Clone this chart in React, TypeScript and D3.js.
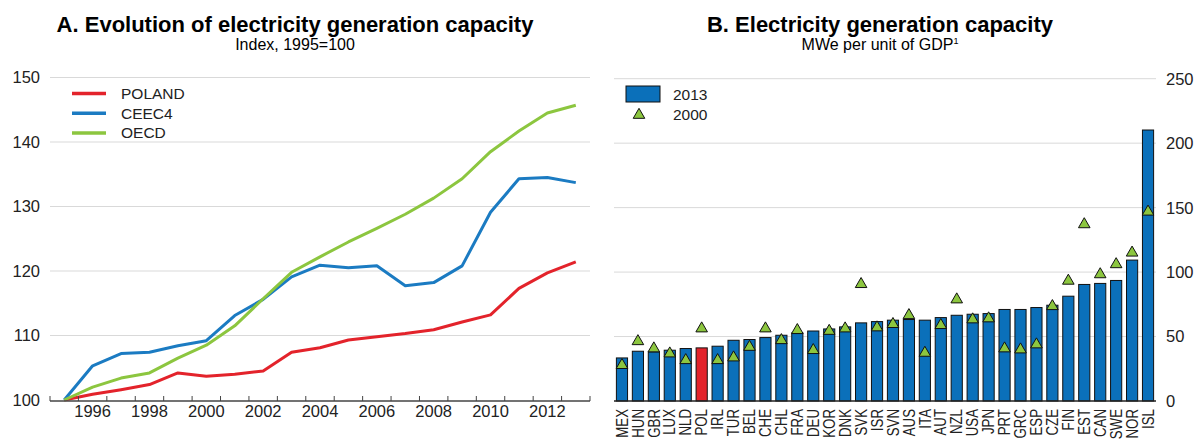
import * as d3 from 'd3';

// Panel A: index, 1995=100
const years = [1995, 1996, 1997, 1998, 1999, 2000, 2001, 2002, 2003, 2004, 2005, 2006, 2007, 2008, 2009, 2010, 2011, 2012, 2013];
const poland = [100, 100.9, 101.6, 102.4, 104.2, 103.7, 104.0, 104.5, 107.4, 108.1, 109.3, 109.8, 110.3, 110.9, 112.1, 113.2, 117.3, 119.7, 121.4];
const ceec4 = [100, 105.3, 107.2, 107.4, 108.4, 109.2, 113.1, 115.6, 119.1, 120.9, 120.5, 120.8, 117.7, 118.2, 120.8, 129.1, 134.3, 134.5, 133.7];
const oecd = [100, 102.0, 103.4, 104.2, 106.5, 108.5, 111.5, 115.7, 119.8, 122.2, 124.5, 126.6, 128.8, 131.3, 134.3, 138.5, 141.7, 144.5, 145.7];
const yearLabels = [1996, 1998, 2000, 2002, 2004, 2006, 2008, 2010, 2012];
const leftTicks = [100, 110, 120, 130, 140, 150];

// Panel B: MWe per unit of GDP
const countries = ['MEX', 'HUN', 'GBR', 'LUX', 'NLD', 'POL', 'IRL', 'TUR', 'BEL', 'CHE', 'CHL', 'FRA', 'DEU', 'KOR', 'DNK', 'SVK', 'ISR', 'SVN', 'AUS', 'ITA', 'AUT', 'NZL', 'USA', 'JPN', 'PRT', 'GRC', 'ESP', 'CZE', 'FIN', 'EST', 'CAN', 'SWE', 'NOR', 'ISL'];
const cap2013 = [33.4, 38.6, 38.1, 39.4, 40.7, 41.2, 42.5, 47.1, 47.7, 49.2, 51, 52.8, 54.3, 55.9, 57.5, 60.6, 61.6, 62.7, 63.2, 62.7, 64.7, 66.5, 67.3, 67.8, 71, 71, 72.5, 74.3, 81.3, 90.4, 91.2, 93.5, 109.3, 210.2];
const cap2000 = [27.8, 46.3, 40.7, 36.8, 31.6, 56.2, 31.6, 33.7, 41.9, 56.2, 47.1, 54.9, 39.4, 54.3, 56.2, 90.6, 57, 59.6, 66.5, 37.3, 58.8, 78.7, 63.2, 64, 40.7, 39.9, 43.8, 73.5, 93.2, 137, 98.2, 106, 115, 146.8];
const rightTicks = [0, 50, 100, 150, 200, 250];

const series = [
  { name: 'POLAND', values: poland, color: '#e3232b' },
  { name: 'CEEC4', values: ceec4, color: '#1b7bc2' },
  { name: 'OECD', values: oecd, color: '#8cc63f' },
];

const FONT = '"Liberation Sans", Arial, sans-serif';
const BLUE = '#0b70ba';
const RED = '#e3232b';
const GREEN = '#8cc63f';
const GRID = '#d9d9d9';

const App = () => {
  const x1 = d3.scaleBand<number>().domain(years).range([50, 590]);
  const y1 = d3.scaleLinear().domain([100, 150]).range([400, 77.5]);
  const line = d3.line<number>()
    .x((_, i) => x1(years[i])! + x1.bandwidth() / 2)
    .y(d => y1(d));

  const x2 = d3.scaleBand<string>().domain(countries).range([614, 1156]).paddingInner(0.3).paddingOuter(0.15);
  const y2 = d3.scaleLinear().domain([0, 250]).range([401, 78.7]);
  const tri = d3.symbol().type(d3.symbolTriangle).size(58)();

  return (
    <svg width={1197} height={441} style={{ position: 'absolute', left: 0, top: 0 }} fontFamily={FONT}>
      <rect width={1197} height={441} fill="#fff" />

      {/* Panel A */}
      <text x={295} y={31.5} textAnchor="middle" fontSize={22} fontWeight="bold">A. Evolution of electricity generation capacity</text>
      <text x={295} y={49.5} textAnchor="middle" fontSize={16}>Index, 1995=100</text>

      {leftTicks.filter(t => t > 100).map(t => (
        <line key={t} x1={50} x2={590} y1={y1(t)} y2={y1(t)} stroke={GRID} strokeWidth={1} />
      ))}
      {leftTicks.map(t => (
        <text key={t} x={40} y={y1(t)} dy="0.36em" textAnchor="end" fontSize={16.5} fill="#222">{t}</text>
      ))}

      {series.map(s => (
        <path key={s.name} d={line(s.values)!} fill="none" stroke={s.color} strokeWidth={3} strokeLinejoin="round" />
      ))}

      <line x1={50} x2={590} y1={401} y2={401} stroke="#444" strokeWidth={1.5} />
      {years.concat([2014]).map((yr, i) => {
        const xx = 50 + i * x1.step();
        return <line key={yr} x1={xx} x2={xx} y1={401} y2={396} stroke="#444" strokeWidth={1} />;
      })}
      {yearLabels.map(yr => (
        <text key={yr} x={x1(yr)! + x1.bandwidth() / 2} y={417} textAnchor="middle" fontSize={16.5} fill="#222">{yr}</text>
      ))}

      {series.map((s, i) => (
        <g key={s.name}>
          <line x1={72} x2={106} y1={93.5 + i * 19.7} y2={93.5 + i * 19.7} stroke={s.color} strokeWidth={3.5} />
          <text x={121} y={93.5 + i * 19.7} dy="0.36em" fontSize={15.5} fill="#222">{s.name}</text>
        </g>
      ))}

      {/* Panel B */}
      <text x={880} y={31.5} textAnchor="middle" fontSize={22} fontWeight="bold">B. Electricity generation capacity</text>
      <text x={880} y={49.5} textAnchor="middle" fontSize={16}>
        MWe per unit of GDP<tspan fontSize={9} dy={-6}>1</tspan>
      </text>

      {rightTicks.filter(t => t > 0).map(t => (
        <line key={t} x1={614} x2={1156} y1={y2(t)} y2={y2(t)} stroke={GRID} strokeWidth={1} />
      ))}
      {rightTicks.map(t => (
        <text key={t} x={1166} y={y2(t)} dy="0.36em" fontSize={16.5} fill="#222">{t}</text>
      ))}

      {countries.map((c, i) => (
        <rect key={c} x={x2(c)} y={y2(cap2013[i])} width={x2.bandwidth()} height={y2(0) - y2(cap2013[i])}
          fill={c === 'POL' ? RED : BLUE} stroke="#111" strokeWidth={1} />
      ))}
      <line x1={614} x2={1156} y1={401} y2={401} stroke="#222" strokeWidth={1.5} />
      {countries.map((c, i) => (
        <path key={c} d={tri!} transform={`translate(${x2(c)! + x2.bandwidth() / 2},${y2(cap2000[i])})`}
          fill={GREEN} stroke="#111" strokeWidth={1} />
      ))}
      {countries.map(c => (
        <text key={c} transform={`translate(${x2(c)! + x2.bandwidth() / 2},409) rotate(-90) scale(1,1.18)`}
          dy="0.36em" textAnchor="end" fontSize={13.3} fill="#222">{c}</text>
      ))}

      <rect x={626} y={86} width={34} height={16} fill={BLUE} stroke="#111" strokeWidth={1} />
      <text x={673} y={94} dy="0.36em" fontSize={15.5} fill="#222">2013</text>
      <path d={tri!} transform="translate(639,115)" fill={GREEN} stroke="#111" strokeWidth={1} />
      <text x={673} y={114} dy="0.36em" fontSize={15.5} fill="#222">2000</text>
    </svg>
  );
};

export default App;
